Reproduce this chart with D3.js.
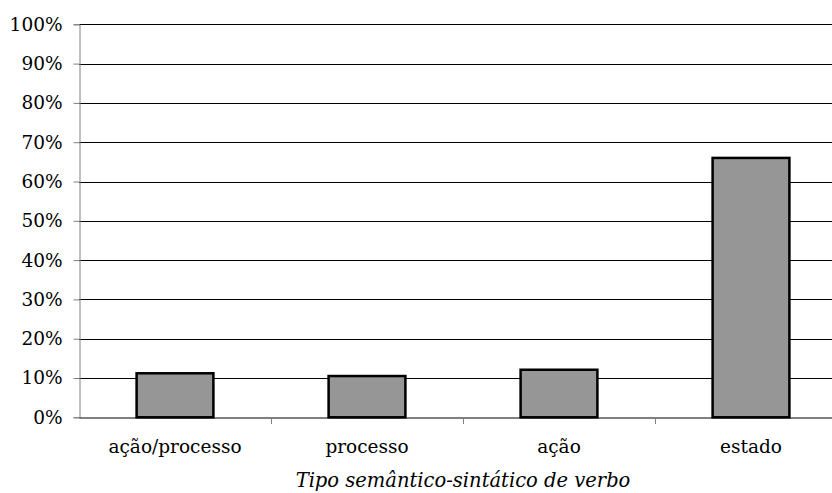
<!DOCTYPE html>
<html><head><meta charset="utf-8">
<script src="https://cdn.jsdelivr.net/npm/d3@7"></script>
<style>body{margin:0;background:#fff}svg{display:block}</style>
</head><body>
<svg id="c" width="832" height="493"></svg>
<script>
const categories = ["ação/processo", "processo", "ação", "estado"];
const values = [0.112, 0.105, 0.121, 0.660];
const yTicks = [0, 0.1, 0.2, 0.3, 0.4, 0.5, 0.6, 0.7, 0.8, 0.9, 1.0];
const xTitle = "Tipo semântico-sintático de verbo";

const svg = d3.select("#c");
const font = "'DejaVu Serif', serif";
const x = d3.scaleBand().domain(categories).range([79, 847]).paddingInner(0).paddingOuter(0);
const y = d3.scaleLinear().domain([0, 1]).range([417.3, 24.3]);

// gridlines
svg.append("g").selectAll("line").data(yTicks.slice(1)).join("line")
  .attr("x1", 79).attr("x2", 847)
  .attr("y1", d => Math.round(y(d)) + 0.5).attr("y2", d => Math.round(y(d)) + 0.5)
  .attr("stroke", "#000").attr("stroke-width", 1);

// y axis
const ya = svg.append("g").attr("transform", "translate(79.5,0)")
  .call(d3.axisLeft(y).tickValues(yTicks).tickFormat(d3.format(".0%")).tickSize(6).tickPadding(11));
ya.select(".domain").attr("stroke", "#808080").attr("stroke-width", 1);
ya.selectAll(".tick line").attr("stroke", "#808080");
ya.selectAll("text").attr("font-family", font).attr("font-size", 18.5).attr("fill", "#000");

// bars
const bw = x.bandwidth() * 0.4;
svg.append("g").selectAll("rect").data(categories).join("rect")
  .attr("x", d => x(d) + (x.bandwidth() - bw) / 2)
  .attr("width", bw)
  .attr("y", (d, i) => y(values[i]))
  .attr("height", (d, i) => y(0) - y(values[i]))
  .attr("fill", "#969696").attr("stroke", "#000").attr("stroke-width", 2.5);

// x axis
const xa = svg.append("g").attr("transform", "translate(0,417.5)")
  .call(d3.axisBottom(x).tickSize(0).tickPadding(22));
xa.select(".domain").attr("stroke", "#000").attr("stroke-width", 1);
xa.selectAll("text").attr("font-family", font).attr("font-size", 18.5).attr("fill", "#000");
// category separator ticks
svg.append("g").selectAll("line").data(categories.slice(1)).join("line")
  .attr("x1", d => Math.round(x(d)) + 0.5).attr("x2", d => Math.round(x(d)) + 0.5)
  .attr("y1", 417).attr("y2", 424).attr("stroke", "#808080");

svg.append("text").attr("x", 463).attr("y", 487).attr("text-anchor", "middle")
  .attr("font-family", font).attr("font-size", 19.5).attr("font-style", "italic").text(xTitle);
</script>
</body></html>
